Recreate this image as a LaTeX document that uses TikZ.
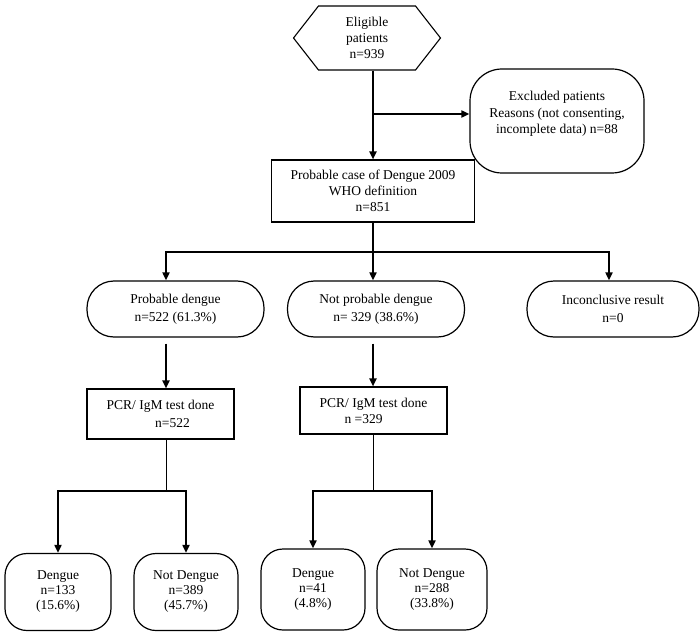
\documentclass[tikz,border=0pt]{standalone}
\usepackage{fontspec}
\setmainfont{Liberation Serif}
\usetikzlibrary{arrows.meta,shapes.symbols}

\begin{document}
\begin{tikzpicture}[
  x=1pt, y=-1pt,
  every node/.style={font=\fontsize{13.5}{16}\selectfont, align=center, inner sep=2pt},
  hexbox/.style={draw, line width=1.1pt, signal, signal to=east and west, signal pointer angle=104, minimum width=147pt, minimum height=64pt},
  procbox/.style={draw, line width=1.1pt, minimum width=147pt},
  pill/.style={draw, line width=1.2pt, rounded corners=27pt, minimum width=177pt, minimum height=56pt, font=\fontsize{13.5}{18}\selectfont},
  outcome/.style={draw, line width=1.2pt, rounded corners=22pt, minimum height=77pt, font=\fontsize{13.5}{15}\selectfont},
  exclbox/.style={draw, line width=1.2pt, rounded corners=32pt, minimum width=174pt, minimum height=104pt, font=\fontsize{13.5}{16.5}\selectfont},
  arrow/.style={-{Triangle[length=8pt,width=7pt]}, line width=1.8pt},
  stem/.style={line width=0.9pt}
]
\useasboundingbox (0,0) rectangle (700,636);

% enrolment
\node[hexbox] (elig) at (367,38) {Eligible\\patients\\n=939};
\node[exclbox] (excl) at (557,121) {Excluded patients\\Reasons (not consenting,\\incomplete data) n=88\\\mbox{}};
\node[procbox, minimum width=203pt, minimum height=62pt] (case) at (373,191) {Probable case of Dengue 2009\\WHO definition\\n=851};
\coordinate (exj) at (373,114);
\draw[arrow] (elig.south -| case.north) -- (case.north);
\draw[arrow] (exj) -- (exj -| excl.west);

% classification
\coordinate (fork) at (373,252);
\coordinate (forkL) at (166,252);
\coordinate (forkR) at (609,252);
\node[pill] (prob) at (175.5,309) {Probable dengue\\n=522 (61.3\%)};
\node[pill] (notprob) at (376,309) {Not probable dengue\\n= 329 (38.6\%)};
\node[pill, minimum width=172pt] (inconc) at (613,309) {Inconclusive result\\n=0};
\draw[arrow] (case.south) -- (case.south |- notprob.north);
\draw[arrow] (fork) -| (forkL |- prob.north);
\draw[arrow] (fork) -| (forkR |- inconc.north);

% laboratory tests
\node[procbox, minimum height=50pt, font=\fontsize{13.5}{18}\selectfont] (pcrA) at (160.5,414) {PCR/ IgM test done\\\hspace*{24pt}n=522};
\node[procbox, minimum height=47pt] (pcrB) at (373.5,410.5) {PCR/ IgM test done\\n =329\hspace*{20pt}};
\draw[arrow, shorten <=6pt] (forkL |- prob.south) -- (forkL |- pcrA.north);
\draw[arrow, shorten <=6pt] (fork |- notprob.south) -- (fork |- pcrB.north);

% outcomes
\coordinate (splitA) at (166,491);
\coordinate (splitB) at (373,491);
\node[outcome, minimum width=106pt] (denA) at (58,592) {Dengue\\n=133\\(15.6\%)};
\node[outcome, minimum width=104pt] (notA) at (186,592) {Not Dengue\\n=389\\(45.7\%)};
\node[outcome, minimum width=104pt, minimum height=81pt] (denB) at (313,589.5) {Dengue\\n=41\\(4.8\%)};
\node[outcome, minimum width=110pt, minimum height=81pt] (notB) at (432,589.5) {Not Dengue\\n=288\\(33.8\%)};
\draw[stem] (splitA |- pcrA.south) -- (splitA);
\draw[stem] (splitB |- pcrB.south) -- (splitB);
\draw[arrow] (splitA) -| (denA.north);
\draw[arrow] (splitA) -| (notA.north);
\draw[arrow] (splitB) -| (denB.north);
\draw[arrow] (splitB) -| (notB.north);
\end{tikzpicture}
\end{document}
